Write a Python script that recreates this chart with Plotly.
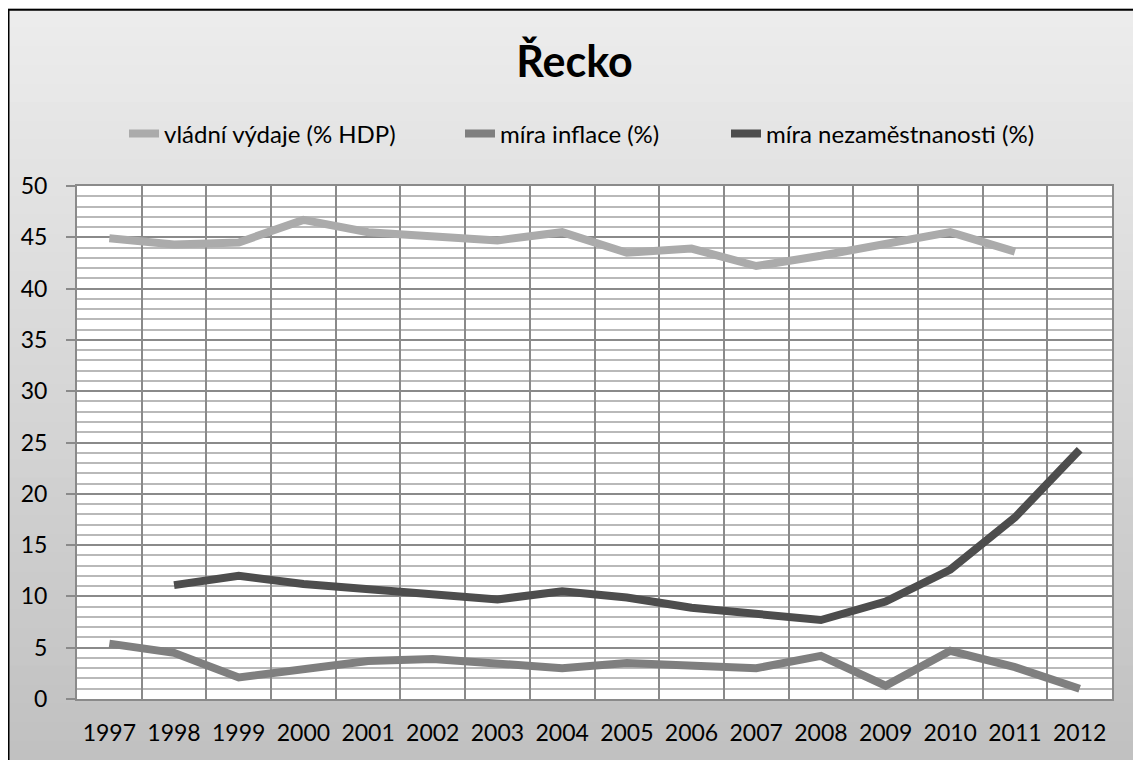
import plotly.graph_objects as go

years = ["1997", "1998", "1999", "2000", "2001", "2002", "2003", "2004",
         "2005", "2006", "2007", "2008", "2009", "2010", "2011", "2012"]
vladni_vydaje = [44.9, 44.3, 44.5, 46.7, 45.5, 45.1, 44.7, 45.5,
                 43.5, 43.9, 42.2, 43.2, 44.4, 45.5, 43.6, None]
mira_inflace = [5.4, 4.5, 2.1, 2.9, 3.7, 3.9, 3.4, 3.0,
                3.5, 3.3, 3.0, 4.2, 1.3, 4.7, 3.1, 1.0]
mira_nezamestnanosti = [None, 11.1, 12.0, 11.2, 10.7, 10.3, 9.7, 10.5,
                        9.9, 8.9, 8.3, 7.7, 9.5, 12.6, 17.7, 24.3]

# page body has an 8px margin, so the figure is drawn 8px smaller / offset
W, H = 1133, 752
L, R, T, B = 69, 1104, 178, 691.5


def px_x(p):
    return (p - L) / (R - L)


def px_y(p):
    return (B - p) / (B - T)


fig = go.Figure()
series = [
    ("vládní výdaje (% HDP)", vladni_vydaje, "#ababab", "legend", 116),
    ("míra inflace (%)", mira_inflace, "#7f7f7f", "legend2", 452),
    ("míra nezaměstnanosti (%)", mira_nezamestnanosti, "#4d4d4d", "legend3", 718),
]
for name, vals, col, leg, _ in series:
    fig.add_trace(go.Scatter(x=years, y=vals, mode="lines", name=name, legend=leg,
                             line=dict(color=col, width=8)))

# gradient chart background (strips), then white plot area, then border
shapes = []
n = 40
top_c, bot_c = 236, 193
for i in range(n):
    y0 = i * H / n
    y1 = (i + 1) * H / n + 1
    c = int(round(top_c + (bot_c - top_c) * i / (n - 1)))
    shapes.append(dict(type="rect", xref="paper", yref="paper", layer="below",
                       x0=px_x(0), x1=px_x(W), y0=px_y(y1), y1=px_y(y0),
                       fillcolor=f"rgb({c},{c},{c})", line=dict(width=0)))
shapes.append(dict(type="rect", xref="paper", yref="paper", layer="below",
                   x0=0, x1=1, y0=0, y1=1, fillcolor="white", line=dict(width=0)))
shapes.append(dict(type="rect", xref="paper", yref="paper", layer="below",
                   x0=px_x(0.5), x1=px_x(W + 20), y0=px_y(H + 20), y1=px_y(1.5),
                   fillcolor="rgba(0,0,0,0)", line=dict(color="black", width=2)))

legends = {}
for _, _, _, leg, lx in series:
    legends[leg] = dict(orientation="h", xref="container", yref="container",
                        x=lx / W, xanchor="left", y=1 - 126 / H, yanchor="middle",
                        font=dict(size=24), bgcolor="rgba(0,0,0,0)")

fig.update_layout(
    width=W, height=H,
    margin=dict(l=L, r=W - R, t=T, b=H - B, autoexpand=False),
    paper_bgcolor="#e0e0e0",
    plot_bgcolor="white",
    font=dict(family="Lato", size=23, color="black"),
    title=dict(text="Řecko", x=0.5, xanchor="center", y=1 - 54 / H, yanchor="middle",
               font=dict(family="Lato", size=43, weight=700, color="black")),
    shapes=shapes,
    showlegend=True,
    **legends,
)
fig.update_xaxes(type="category", range=[-0.5, 15.5], tickson="boundaries", showgrid=True,
                 gridcolor="#8a8a8a", gridwidth=2, ticks="", automargin=False,
                 showline=True, linecolor="#8a8a8a", linewidth=2, mirror=True,
                 ticklabelstandoff=12, zeroline=False)
fig.update_yaxes(range=[0, 50], dtick=5, showgrid=True, gridcolor="#8a8a8a", gridwidth=2,
                 minor=dict(dtick=1, showgrid=True, gridcolor="#b9b9b9", gridwidth=2),
                 ticks="outside", ticklen=9, tickcolor="#8a8a8a", tickwidth=2,
                 automargin=False,
                 showline=True, linecolor="#8a8a8a", linewidth=2, mirror=True,
                 ticklabelstandoff=14, zeroline=False)

fig.write_html("out.html")
